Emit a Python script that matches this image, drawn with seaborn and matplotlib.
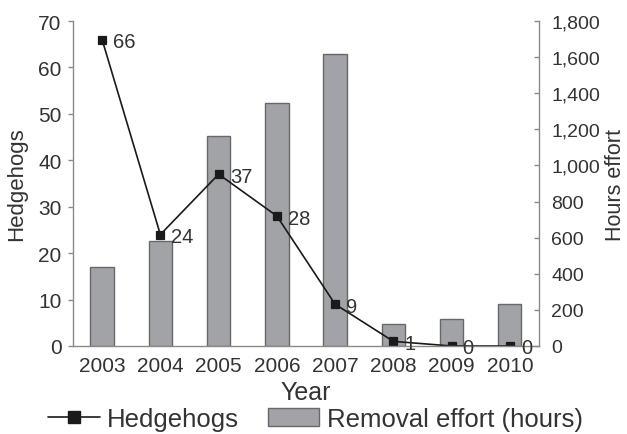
import matplotlib
matplotlib.use("Agg")
import matplotlib.pyplot as plt
import seaborn as sns
import pandas as pd
from matplotlib.lines import Line2D
from matplotlib.patches import Patch
from matplotlib.ticker import FuncFormatter, FixedLocator

# --- data ---
years = ["2003", "2004", "2005", "2006", "2007", "2008", "2009", "2010"]
hedgehogs = [66, 24, 37, 28, 9, 1, 0, 0]
effort_hours = [440, 580, 1165, 1345, 1615, 120, 150, 235]

df = pd.DataFrame({"year": years, "hedgehogs": hedgehogs, "effort": effort_hours})

sns.set_style("white")
plt.rcParams["font.family"] = ["Liberation Sans", "DejaVu Sans"]
text_col = "#333333"
spine_col = "#8a8a8a"
bar_fill = "#a1a3a6"
bar_edge = "#66686b"

fig = plt.figure(figsize=(6.27, 4.35), dpi=100)
ax1 = fig.add_axes([0.1164, 0.2023, 0.7432, 0.7471])
ax2 = ax1.twinx()

# bars (right axis)
sns.barplot(data=df, x="year", y="effort", ax=ax2, color=bar_fill,
            edgecolor=bar_edge, linewidth=1.0, width=0.40, saturation=1)

# hedgehog line (left axis)
sns.pointplot(data=df, x="year", y="hedgehogs", ax=ax1, color="#1a1a1a",
              markers="s", markersize=5.5, linewidth=1.2, errorbar=None)
ax1.set_zorder(ax2.get_zorder() + 1)
ax1.patch.set_visible(False)

for i, v in enumerate(hedgehogs):
    ax1.annotate(str(v), (i, v), xytext=(8, 0), textcoords="offset points",
                 va="center_baseline", ha="left", fontsize=14.5, color=text_col)

ax1.set_xlim(-0.5, 7.5)
ax1.set_ylim(0, 70)
ax2.set_ylim(0, 1800)
ax1.set_yticks(range(0, 71, 10))
ax2.set_yticks(range(0, 1801, 200))
ax2.yaxis.set_major_formatter(FuncFormatter(lambda v, p: f"{int(v):,}"))

# category boundary ticks on x
ax1.xaxis.set_minor_locator(FixedLocator([i - 0.5 for i in range(len(years) + 1)]))
ax1.tick_params(axis="x", which="major", length=0, labelsize=15,
                labelcolor=text_col, pad=7)
ax1.tick_params(axis="x", which="minor", length=3.3, width=1, color=spine_col,
                direction="out")
ax1.tick_params(axis="y", length=3.3, width=1, color=spine_col, direction="out",
                labelsize=15, labelcolor=text_col, pad=5)
ax2.tick_params(axis="y", length=3.3, width=1, color=spine_col, direction="in",
                labelsize=14, labelcolor=text_col, pad=9)
ax2.tick_params(axis="x", length=0)

for ax in (ax1, ax2):
    for s in ax.spines.values():
        s.set_visible(False)
ax1.spines["left"].set_visible(True)
ax1.spines["bottom"].set_visible(True)
ax2.spines["right"].set_visible(True)
for s in (ax1.spines["left"], ax1.spines["bottom"], ax2.spines["right"]):
    s.set_color(spine_col)
    s.set_linewidth(1.0)

ax1.set_xlabel("Year", fontsize=18, color=text_col, labelpad=4)
ax1.set_ylabel("Hedgehogs", fontsize=16, color=text_col, labelpad=8)
ax2.set_ylabel("Hours effort", fontsize=15.5, color=text_col, va="center")
ax2.yaxis.set_label_coords(1.165, 0.5)

handles = [
    Line2D([], [], color="#1a1a1a", marker="s", markersize=9, linewidth=1.2),
    Patch(facecolor=bar_fill, edgecolor=bar_edge, linewidth=1.0),
]
fig.legend(handles, ["Hedgehogs", "Removal effort (hours)"], loc="center",
           bbox_to_anchor=(0.503, 0.035), ncol=2, frameon=False, fontsize=18.5,
           labelcolor=text_col, handlelength=2.0, columnspacing=1.1,
           handletextpad=0.3, borderpad=0, borderaxespad=0)

fig.savefig("out.png", dpi=100)
